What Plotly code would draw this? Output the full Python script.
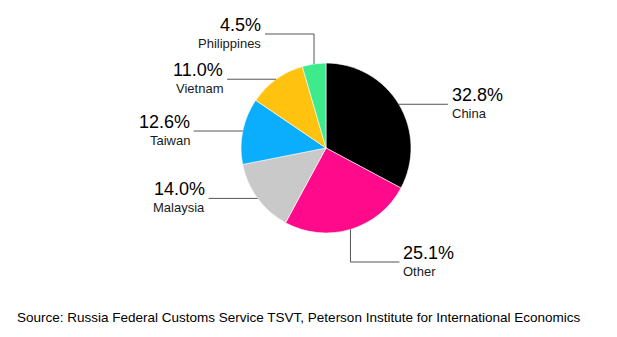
import math
import plotly.graph_objects as go

labels = ["China", "Other", "Malaysia", "Taiwan", "Vietnam", "Philippines"]
values = [32.8, 25.1, 14.0, 12.6, 11.0, 4.5]
colors = ["#000000", "#ff0a8a", "#c9c9c9", "#0aaefc", "#ffc20f", "#3deb8d"]
source = "Source: Russia Federal Customs Service TSVT, Peterson Institute for International Economics"

W, H = 617, 337
CX, CY, R = 326, 148, 85
FONT = "Liberation Sans, Arial, sans-serif"


def px(x):
    return x / W


def py(y):
    return 1 - y / H


fig = go.Figure(go.Pie(
    labels=labels, values=values, sort=False, direction="clockwise", rotation=0,
    marker=dict(colors=colors, line=dict(color="white", width=0.6)),
    textinfo="none", hoverinfo="label+percent", showlegend=False,
    domain=dict(x=[px(CX - R), px(CX + R)], y=[py(CY + R), py(CY - R)]),
))

shapes, annotations = [], []
total = sum(values)
cum = 0.0
HL = 49
for lab, v in zip(labels, values):
    mid = (cum + v / 2) / total * 360
    cum += v
    ang = math.radians(90 - mid)
    ax, ay = CX + R * math.cos(ang), CY - R * math.sin(ang)
    side = 1 if math.cos(ang) >= 0 else -1
    pts = [(ax, ay)]
    if abs(math.sin(ang)) > 0.9:
        ey = CY - 114 if math.sin(ang) > 0 else CY + 114
        pts.append((ax, ey))
        pts.append((ax + side * HL, ey))
    else:
        pts.append((ax + side * HL, ay))
    path = "M " + " L ".join(f"{px(x):.5f},{py(y):.5f}" for x, y in pts)
    shapes.append(dict(type="path", path=path, xref="paper", yref="paper",
                       line=dict(color="#555555", width=1)))
    tx, ty = pts[-1]
    tx += side * 2
    xa = "left" if side > 0 else "right"
    annotations.append(dict(x=px(tx), y=py(ty - 9), xref="paper", yref="paper",
                            text=f"{v:.1f}%", showarrow=False, xanchor=xa, yanchor="middle",
                            font=dict(family=FONT, size=18, color="#000000")))
    annotations.append(dict(x=px(tx), y=py(ty + 9.5), xref="paper", yref="paper",
                            text=lab, showarrow=False, xanchor=xa, yanchor="middle",
                            font=dict(family=FONT, size=13, color="#1a1a1a")))

annotations.append(dict(x=px(15), y=py(317), xref="paper", yref="paper", text=source,
                        showarrow=False, xanchor="left", yanchor="middle",
                        font=dict(family=FONT, size=13.5, color="#000000")))

fig.update_layout(width=W, height=H, margin=dict(l=0, r=0, t=0, b=0),
                  paper_bgcolor="white", plot_bgcolor="white",
                  shapes=shapes, annotations=annotations)
fig.write_html("out.html")
